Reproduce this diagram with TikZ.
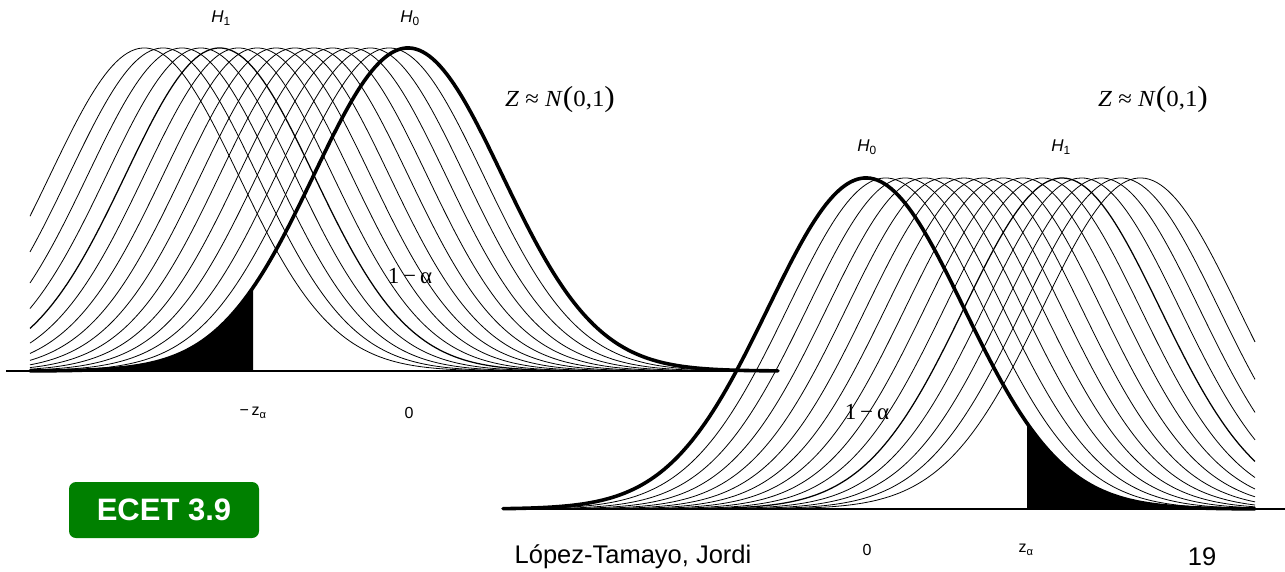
\documentclass[tikz,border=0pt]{standalone}
\usepackage{fontspec}
\usepackage{graphicx}
\setmainfont{Liberation Sans}
\newfontfamily\serifx{Liberation Serif}
\definecolor{ecetgreen}{RGB}{0,128,0}
\begin{document}
\begin{tikzpicture}[x=1pt,y=-1pt,
  thincurve/.style={line width=0.8pt,line join=round},
  hcurve/.style={line width=1.25pt,line join=round},
  boldcurve/.style={line width=3.6pt,line join=round,line cap=round},
  axisline/.style={line width=1.2pt},
  hlab/.style={inner sep=0pt,font=\fontsize{17}{19}\selectfont},
  tlab/.style={inner sep=0pt,font=\fontsize{16}{18}\selectfont},
  zlab/.style={inner sep=0pt,font=\serifx\fontsize{23}{25}\selectfont},
  alab/.style={inner sep=0pt,font=\serifx\fontsize{23}{25}\selectfont},
  foot/.style={inner sep=0pt,font=\fontsize{25.5}{28}\selectfont}]
\useasboundingbox (0,0) rectangle (1285,571);
% ---------------- left panel ----------------
\foreach \i in {1,...,14}{
  \pgfmathsetmacro\cc{408-18.84*\i}
  \ifnum\i=10 \tikzset{cstyle/.style={hcurve}}\else\tikzset{cstyle/.style={thincurve}}\fi
  \draw[cstyle] plot[domain=30:778,samples=200] (\x,{371-323*exp(-0.5*((\x-\cc)/94.2)*((\x-\cc)/94.2))});
}
\fill plot[domain=30:253,samples=80] (\x,{371-323*exp(-0.5*((\x-408)/94.2)*((\x-408)/94.2))}) -- (253,371) -- (30,371) -- cycle;
\coordinate (blLs) at (6,371);
\coordinate (blLe) at (778,371);
\draw[axisline] (blLs) -- (blLe);
\draw[boldcurve] plot[domain=30:778,samples=220] (\x,{371-323*exp(-0.5*((\x-408)/94.2)*((\x-408)/94.2))});
% ---------------- right panel ----------------
\foreach \i in {1,...,14}{
  \pgfmathsetmacro\cc{866+19.6*\i}
  \ifnum\i=10 \tikzset{cstyle/.style={hcurve}}\else\tikzset{cstyle/.style={thincurve}}\fi
  \draw[cstyle] plot[domain=503:1255,samples=200] (\x,{509-331*exp(-0.5*((\x-\cc)/98)*((\x-\cc)/98))});
}
\fill plot[domain=1027.2:1255,samples=80] (\x,{509-331*exp(-0.5*((\x-866)/98)*((\x-866)/98))}) -- (1255,509) -- (1027.2,509) -- cycle;
\coordinate (blRs) at (503,509);
\coordinate (blRe) at (1285,509);
\draw[axisline] (blRs) -- (blRe);
\draw[boldcurve] plot[domain=503:1255,samples=220] (\x,{509-331*exp(-0.5*((\x-866)/98)*((\x-866)/98))});
% ---------------- labels ----------------
\node[hlab] (h1L) at (221,18) {\textit{H}\textsubscript{1}};
\node[hlab] (h0L) at (410,18) {\textit{H}\textsubscript{0}};
\node[hlab] (h0R) at (867,147) {\textit{H}\textsubscript{0}};
\node[hlab] (h1R) at (1061,147) {\textit{H}\textsubscript{1}};
\node[zlab] (zL) at (560,100) {\scalebox{1.08}[1]{\textit{Z} ≈ \textit{N}{\fontsize{29}{29}\selectfont(}0,1{\fontsize{29}{29}\selectfont)}}};
\node[zlab] (zR) at (1153,100) {\scalebox{1.08}[1]{\textit{Z} ≈ \textit{N}{\fontsize{29}{29}\selectfont(}0,1{\fontsize{29}{29}\selectfont)}}};
\node[alab] (aL) at (410,276) {1\,−\,α};
\node[alab] (aR) at (867,412) {1\,−\,α};
\node[tlab] (mzL) at (253,413) {−\,z\textsubscript{α}};
\node[tlab] (zeroL) at (409,413) {0};
\node[tlab] (zeroR) at (867,550) {0};
\node[tlab] (zaR) at (1026,550) {z\textsubscript{α}};
\node[fill=ecetgreen,rounded corners=7pt,minimum width=190pt,minimum height=56pt,inner sep=0pt,text=white,font=\bfseries\fontsize{31}{31}\selectfont] (ecet) at (164,510) {ECET 3.9};
\node[foot] (author) at (633,557) {López-Tamayo, Jordi};
\node[foot] (page) at (1202,557) {19};
\end{tikzpicture}
\end{document}
